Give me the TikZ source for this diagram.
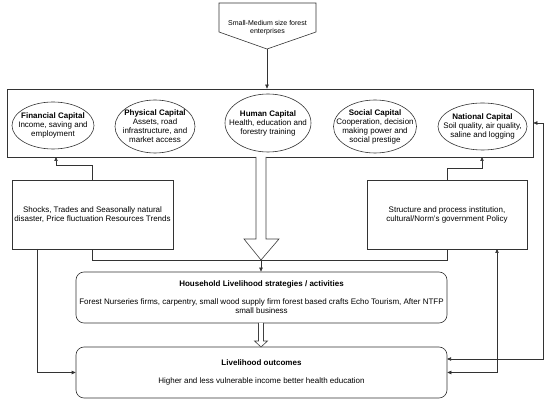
\documentclass[tikz,border=0pt]{standalone}
\usepackage{fontspec}
\setmainfont{Liberation Sans}
\usetikzlibrary{arrows.meta,shapes.geometric,calc}
\begin{document}
\begin{tikzpicture}[x=1pt,y=-1pt,
  line width=0.6pt,
  every node/.style={font=\fontsize{8}{9}\selectfont},
  ln/.style={draw=black!80},
  arr/.style={ln,-{Triangle[length=4pt,width=3.4pt]}},
  arrtwo/.style={ln,{Triangle[length=4pt,width=3.4pt]}-{Triangle[length=4pt,width=3.4pt]}},
  captext/.style={inner sep=0pt,align=center},
  sqbox/.style={draw=black!80,rectangle,inner sep=0pt,align=center},
  rbox/.style={draw=black!80,rectangle,rounded corners=8pt,inner sep=0pt,align=center},
  hollow/.style={draw=black!75,fill=white,line width=0.6pt}]
\useasboundingbox (0,0) rectangle (550,403);
% top pentagon
\draw[ln] (219,3) -- (316,3) -- (316,32) -- (267,49) -- (219,32) -- cycle;
\node[font=\fontsize{7}{8}\selectfont,align=center] (top) at (267.5,27.5) {Small-Medium size forest\\enterprises};
\coordinate (toptip) at (267,49);
% capital rectangle
\node[sqbox,minimum width=526pt,minimum height=68pt] (cap) at (270,123) {};
\node[captext] (fin) at (53,125.5) {\textbf{Financial Capital}\\Income, saving and\\employment};
\draw[ln] (fin.center) ellipse [x radius=41pt, y radius=23.5pt];
\node[captext] (phy) at (155,126.5) {\textbf{Physical Capital}\\Assets, road\\infrastructure, and\\market access};
\draw[ln] (phy.center) ellipse [x radius=40pt, y radius=26.5pt];
\node[captext] (hum) at (268,123) {\textbf{Human Capital}\\Health, education and\\forestry training};
\draw[ln] (hum.center) ellipse [x radius=43pt, y radius=29pt];
\node[captext] (soc) at (375,126.5) {\textbf{Social Capital}\\Cooperation, decision\\making power and\\social prestige};
\draw[ln] (soc.center) ellipse [x radius=41.5pt, y radius=26.5pt];
\node[captext] (nat) at (482.5,126.5) {\textbf{National Capital}\\Soil quality, air quality,\\saline and logging};
\draw[ln] (nat.center) ellipse [x radius=44.5pt, y radius=23.5pt];
% side boxes
\node[sqbox,minimum width=161pt,minimum height=69pt] (shock) at (92.5,214.5) {Shocks, Trades and Seasonally natural\\disaster, Price fluctuation Resources Trends};
\node[sqbox,minimum width=160pt,minimum height=69pt] (struct) at (447,214.5) {Structure and process institution,\\cultural/Norm's government Policy};
% lower boxes
\node[rbox,minimum width=371pt,minimum height=51pt] (house) at (261.5,297.5) {\textbf{Household Livelihood strategies / activities}\\[9pt]Forest Nurseries firms, carpentry, small wood supply firm forest based crafts Echo Tourism, After NTFP\\small business};
\node[rbox,minimum width=371pt,minimum height=51pt] (out) at (261.5,372.5) {\textbf{Livelihood outcomes}\\[9pt]Higher and less vulnerable income better health education};
% connectors
\draw[arr] (toptip) -- (toptip |- cap.north);
\draw[arr] (shock.north) -- (92.5,165) -- (56,165) -- (56,157);
\draw[arr] (struct.north) -- (447,168) -- (482,168) -- (482,157);
% big hollow arrow
\coordinate (merge) at (261,260);
\draw[hollow] (256,157) -- (256,239) -- (244,239) -- (merge) -- (279,239) -- (266,239) -- (266,157);
\draw[ln] (shock.south) |- (merge);
\draw[ln] (struct.south) |- (merge);
\draw[arr] (merge) -- (merge |- house.north);
% small hollow arrow
\draw[hollow] (258.5,323) -- (258.5,341) -- (254.5,341) -- (261,347) -- (267.5,341) -- (263.5,341) -- (263.5,323);
% left and right routes
\draw[arr] (37,249) |- (out.west);
\draw[arrtwo] (497,249) |- (out.east);
\draw[arrtwo] (447,359) -- (543,359) -- (543,123) -- (cap.east);
\end{tikzpicture}
\end{document}
